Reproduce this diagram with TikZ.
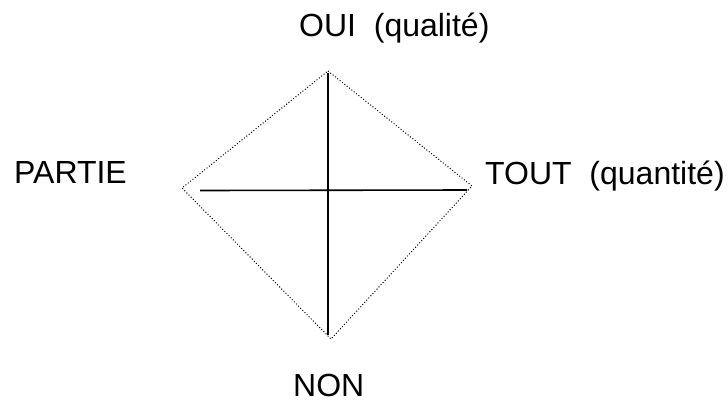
\documentclass[tikz,border=0pt]{standalone}
\usepackage{fontspec}
\setmainfont{Liberation Sans}
\begin{document}
\begin{tikzpicture}[x=1pt,y=-1pt,
  lbl/.style={inner sep=0pt,anchor=base west,font=\fontsize{32}{38}\selectfont},
  dotedge/.style={line width=1pt,dash pattern=on 1pt off 2pt},
  axis/.style={line width=1.6pt}]
\useasboundingbox (0,0) rectangle (728,405);
\coordinate (T) at (328,71);
\coordinate (L) at (182,188);
\coordinate (R) at (472,186);
\coordinate (B) at (331,339);
\coordinate (h1) at (200,190.5);
\coordinate (h2) at (467,190);
\coordinate (v1) at (328,73);
\coordinate (v2) at (328,335);
\draw[dotedge] (T) -- (R) -- (B) -- (L) -- cycle;
\draw[axis] (v1) -- (v2);
\draw[axis] (h1) -- (h2);
\node[lbl] (oui) at (299,36) {OUI\ \ (qualité)};
\node[lbl] (partie) at (14,183) {PARTIE};
\node[lbl] (tout) at (485,184) {TOUT\ \ (quantité)};
\node[lbl] (non) at (293,396) {NON};
\end{tikzpicture}
\end{document}
